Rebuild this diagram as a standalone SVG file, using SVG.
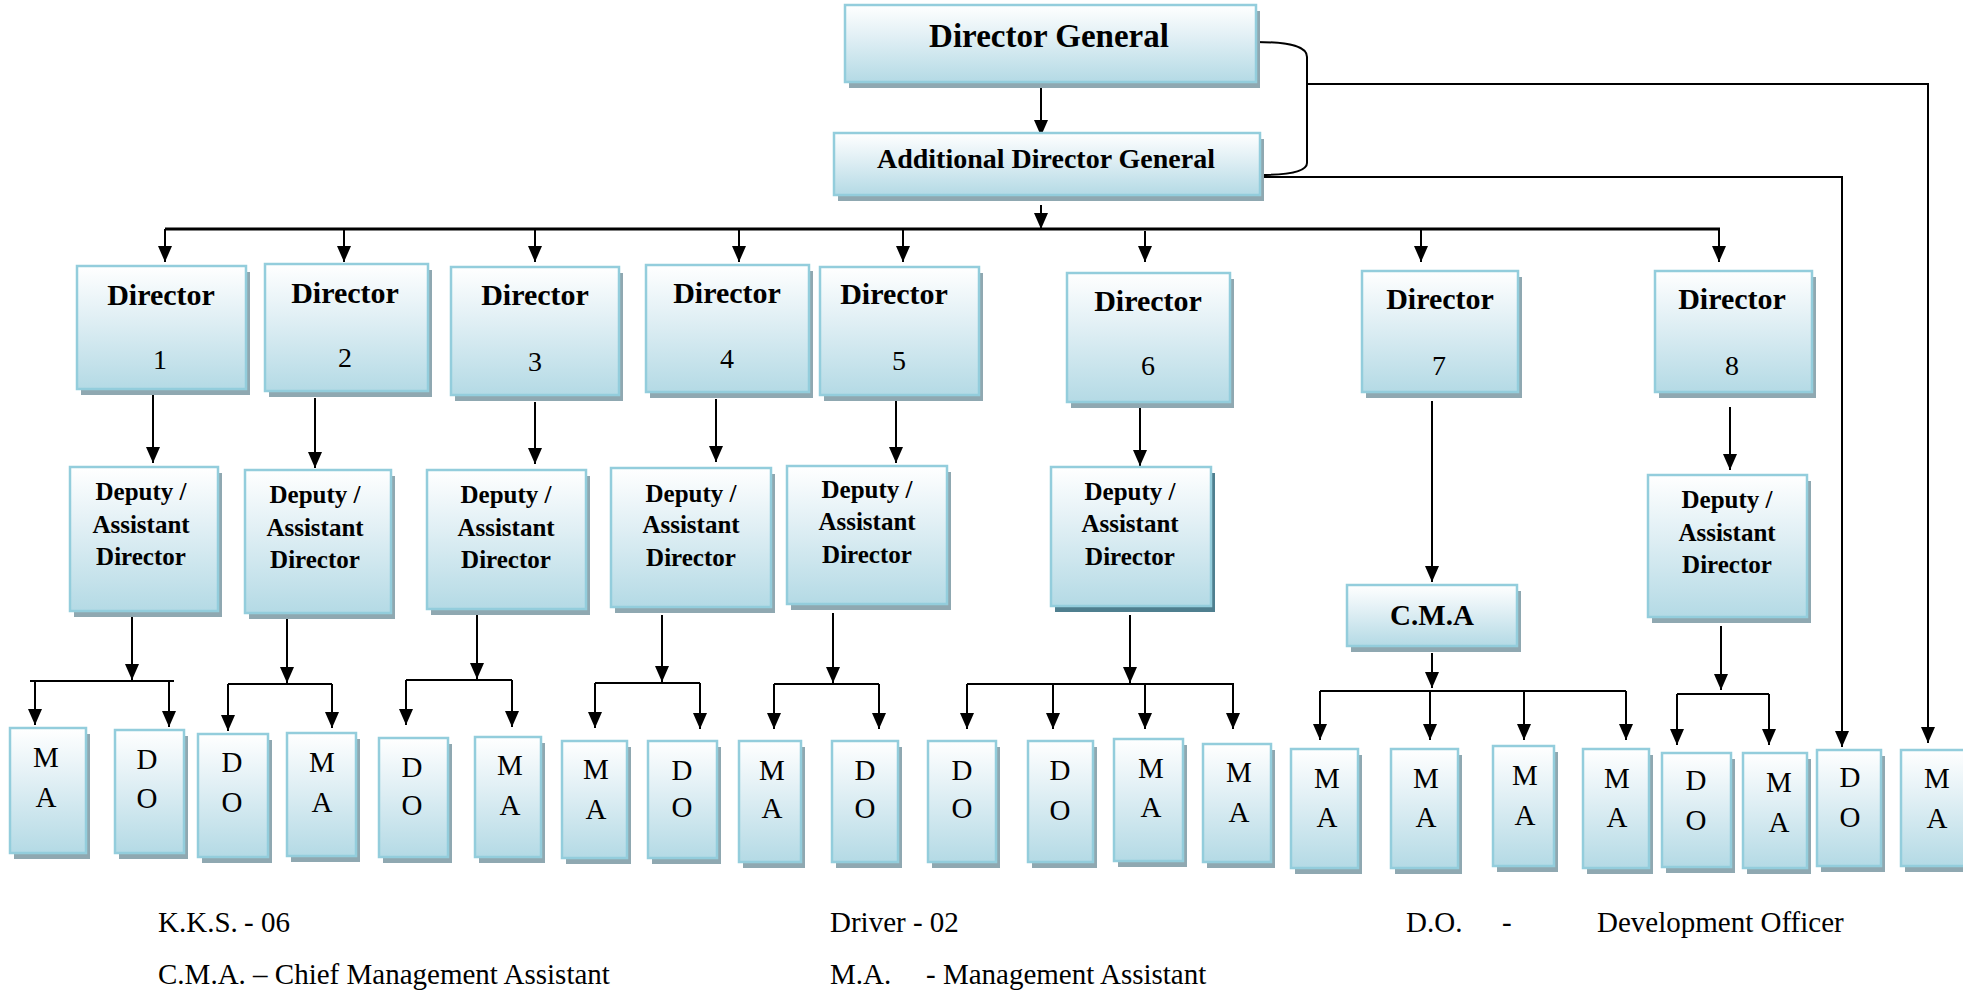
<svg xmlns="http://www.w3.org/2000/svg" width="1963" height="995" viewBox="0 0 1963 995">
<defs>
<linearGradient id="g" x1="0" y1="0" x2="0" y2="1">
<stop offset="0" stop-color="#ffffff"/>
<stop offset="0.4" stop-color="#e2f0f5"/>
<stop offset="1" stop-color="#b4dae5"/>
</linearGradient>
<marker id="ah" viewBox="0 0 16 14" refX="16" refY="7" markerWidth="16" markerHeight="14" orient="auto" markerUnits="userSpaceOnUse">
<path d="M0,0 L16,7 L0,14 z" fill="#000"/>
</marker>
<style>
.box{fill:url(#g);stroke:#93cddc;stroke-width:2.5}
.sh{fill:#8fa8b1}
.shd{fill:#4f7f8f}
text{font-family:'Liberation Serif','Times New Roman','DejaVu Serif',serif;fill:#000}
.tb{font-weight:bold;text-anchor:middle}
.tr{text-anchor:middle}
.lg{font-size:29px}
.dn{font-size:30px}
.da{font-size:25px}
.lt{font-size:29px}
.ln{stroke:#000;stroke-width:2;fill:none}
.bus{stroke:#000;stroke-width:3;fill:none}
.ar{stroke:#000;stroke-width:2;fill:none;marker-end:url(#ah)}
</style>
</defs>
<rect width="1963" height="995" fill="#fff"/>

<g id="connectors">
<path class="ar" d="M1041,87 V136"/>
<path class="ar" d="M1041,205 V229"/>
<path class="bus" d="M165,229 H1720"/>
<path class="ar" d="M165,229 V262"/>
<path class="ar" d="M344,229 V262"/>
<path class="ar" d="M535,229 V262"/>
<path class="ar" d="M739,229 V262"/>
<path class="ar" d="M903,229 V262"/>
<path class="ar" d="M1145,231 V262"/>
<path class="ar" d="M1421,229 V262"/>
<path class="ar" d="M1719,229 V262"/>
<path class="ln" d="M1256,42 C1292,42 1307,47 1307,57 V163 C1307,171 1292,175 1260,175"/>
<path class="ar" d="M1308,84 H1928 V743"/>
<path class="ar" d="M1260,177 H1842 V747"/>
<path class="ar" d="M153,393 V463"/>
<path class="ar" d="M315,398 V468"/>
<path class="ar" d="M535,402 V464"/>
<path class="ar" d="M716,399 V462"/>
<path class="ar" d="M896,401 V463"/>
<path class="ar" d="M1140,404 V466"/>
<path class="ar" d="M1432,401 V582"/>
<path class="ar" d="M1730,407 V470"/>
<path class="ar" d="M132,612 V680"/>
<path class="ln" d="M30,681 H174"/>
<path class="ar" d="M35,681 V725"/>
<path class="ar" d="M169,681 V727"/>
<path class="ar" d="M287,619 V683"/>
<path class="ln" d="M228,684 H332"/>
<path class="ar" d="M228,684 V731"/>
<path class="ar" d="M332,684 V728"/>
<path class="ar" d="M477,613 V679"/>
<path class="ln" d="M406,680 H512"/>
<path class="ar" d="M406,680 V725"/>
<path class="ar" d="M512,680 V727"/>
<path class="ar" d="M662,615 V682"/>
<path class="ln" d="M595,683 H700"/>
<path class="ar" d="M595,683 V728"/>
<path class="ar" d="M700,683 V729"/>
<path class="ar" d="M833,613 V683"/>
<path class="ln" d="M774,684 H879"/>
<path class="ar" d="M774,684 V729"/>
<path class="ar" d="M879,684 V729"/>
<path class="ar" d="M1130,615 V683"/>
<path class="ln" d="M967,684 H1234"/>
<path class="ar" d="M967,684 V729"/>
<path class="ar" d="M1053,684 V729"/>
<path class="ar" d="M1145,684 V729"/>
<path class="ar" d="M1233,684 V729"/>
<path class="ar" d="M1432,653 V688"/>
<path class="ln" d="M1320,691 H1626"/>
<path class="ar" d="M1320,691 V740"/>
<path class="ar" d="M1430,691 V740"/>
<path class="ar" d="M1524,691 V740"/>
<path class="ar" d="M1626,691 V740"/>
<path class="ar" d="M1721,626 V690"/>
<path class="ln" d="M1677,694 H1769"/>
<path class="ar" d="M1677,694 V745"/>
<path class="ar" d="M1769,694 V745"/>
</g>

<g id="dg"><rect class="sh" x="849" y="11" width="411" height="77"/><rect class="box" x="845" y="5" width="411" height="77"/><text class="tb" x="1049" y="47" font-size="33">Director General</text></g>
<g id="adg"><rect class="sh" x="838" y="139" width="426" height="62"/><rect class="box" x="834" y="133" width="426" height="62"/><text class="tb" x="1046" y="168" font-size="28">Additional Director General</text></g>

<g id="director1"><rect class="sh" x="81" y="272" width="169" height="123"/><rect class="box" x="77" y="266" width="169" height="123"/><text class="tb dn" x="161" y="305">Director</text><text class="tr" x="160" y="369" font-size="28">1</text></g>
<g id="director2"><rect class="sh" x="269" y="270" width="163" height="127"/><rect class="box" x="265" y="264" width="163" height="127"/><text class="tb dn" x="345" y="303">Director</text><text class="tr" x="345" y="367" font-size="28">2</text></g>
<g id="director3"><rect class="sh" x="455" y="273" width="168" height="128"/><rect class="box" x="451" y="267" width="168" height="128"/><text class="tb dn" x="535" y="305">Director</text><text class="tr" x="535" y="371" font-size="28">3</text></g>
<g id="director4"><rect class="sh" x="650" y="271" width="163" height="127"/><rect class="box" x="646" y="265" width="163" height="127"/><text class="tb dn" x="727" y="303">Director</text><text class="tr" x="727" y="368" font-size="28">4</text></g>
<g id="director5"><rect class="sh" x="824" y="273" width="159" height="128"/><rect class="box" x="820" y="267" width="159" height="128"/><text class="tb dn" x="894" y="304">Director</text><text class="tr" x="899" y="370" font-size="28">5</text></g>
<g id="director6"><rect class="sh" x="1071" y="279" width="163" height="129"/><rect class="box" x="1067" y="273" width="163" height="129"/><text class="tb dn" x="1148" y="311">Director</text><text class="tr" x="1148" y="375" font-size="28">6</text></g>
<g id="director7"><rect class="sh" x="1366" y="277" width="156" height="121"/><rect class="box" x="1362" y="271" width="156" height="121"/><text class="tb dn" x="1440" y="309">Director</text><text class="tr" x="1439" y="375" font-size="28">7</text></g>
<g id="director8"><rect class="sh" x="1659" y="277" width="157" height="121"/><rect class="box" x="1655" y="271" width="157" height="121"/><text class="tb dn" x="1732" y="309">Director</text><text class="tr" x="1732" y="375" font-size="28">8</text></g>

<g id="dad1"><rect class="sh" x="74" y="473" width="148" height="144"/><rect class="box" x="70" y="467" width="148" height="144"/><text class="tb da" x="141" y="500">Deputy /</text><text class="tb da" x="141" y="533">Assistant</text><text class="tb da" x="141" y="565">Director</text></g>
<g id="dad2"><rect class="sh" x="249" y="476" width="146" height="143"/><rect class="box" x="245" y="470" width="146" height="143"/><text class="tb da" x="315" y="503">Deputy /</text><text class="tb da" x="315" y="536">Assistant</text><text class="tb da" x="315" y="568">Director</text></g>
<g id="dad3"><rect class="sh" x="431" y="476" width="159" height="139"/><rect class="box" x="427" y="470" width="159" height="139"/><text class="tb da" x="506" y="503">Deputy /</text><text class="tb da" x="506" y="536">Assistant</text><text class="tb da" x="506" y="568">Director</text></g>
<g id="dad4"><rect class="sh" x="615" y="474" width="160" height="139"/><rect class="box" x="611" y="468" width="160" height="139"/><text class="tb da" x="691" y="502">Deputy /</text><text class="tb da" x="691" y="533">Assistant</text><text class="tb da" x="691" y="566">Director</text></g>
<g id="dad5"><rect class="sh" x="791" y="472" width="160" height="138"/><rect class="box" x="787" y="466" width="160" height="138"/><text class="tb da" x="867" y="498">Deputy /</text><text class="tb da" x="867" y="530">Assistant</text><text class="tb da" x="867" y="563">Director</text></g>
<g id="dad6"><rect class="shd" x="1055" y="473" width="160" height="139"/><rect class="box" x="1051" y="467" width="160" height="139"/><text class="tb da" x="1130" y="500">Deputy /</text><text class="tb da" x="1130" y="532">Assistant</text><text class="tb da" x="1130" y="565">Director</text></g>
<g id="cma"><rect class="sh" x="1351" y="591" width="170" height="61"/><rect class="box" x="1347" y="585" width="170" height="61"/><text class="tb" x="1432" y="625" font-size="29">C.M.A</text></g>
<g id="dad8"><rect class="sh" x="1652" y="481" width="159" height="142"/><rect class="box" x="1648" y="475" width="159" height="142"/><text class="tb da" x="1727" y="508">Deputy /</text><text class="tb da" x="1727" y="541">Assistant</text><text class="tb da" x="1727" y="573">Director</text></g>

<g id="s1"><rect class="sh" x="14" y="734" width="76" height="125"/><rect class="box" x="10" y="728" width="76" height="125"/><text class="tr lt" x="46" y="767">M</text><text class="tr lt" x="46" y="807">A</text></g>
<g id="s2"><rect class="sh" x="119" y="736" width="69" height="123"/><rect class="box" x="115" y="730" width="69" height="123"/><text class="tr lt" x="147" y="769">D</text><text class="tr lt" x="147" y="808">O</text></g>
<g id="s3"><rect class="sh" x="202" y="740" width="70" height="123"/><rect class="box" x="198" y="734" width="70" height="123"/><text class="tr lt" x="232" y="772">D</text><text class="tr lt" x="232" y="812">O</text></g>
<g id="s4"><rect class="sh" x="291" y="739" width="69" height="123"/><rect class="box" x="287" y="733" width="69" height="123"/><text class="tr lt" x="322" y="772">M</text><text class="tr lt" x="322" y="812">A</text></g>
<g id="s5"><rect class="sh" x="383" y="744" width="69" height="119"/><rect class="box" x="379" y="738" width="69" height="119"/><text class="tr lt" x="412" y="777">D</text><text class="tr lt" x="412" y="815">O</text></g>
<g id="s6"><rect class="sh" x="479" y="743" width="66" height="120"/><rect class="box" x="475" y="737" width="66" height="120"/><text class="tr lt" x="510" y="775">M</text><text class="tr lt" x="510" y="815">A</text></g>
<g id="s7"><rect class="sh" x="566" y="747" width="65" height="117"/><rect class="box" x="562" y="741" width="65" height="117"/><text class="tr lt" x="596" y="779">M</text><text class="tr lt" x="596" y="819">A</text></g>
<g id="s8"><rect class="sh" x="652" y="747" width="69" height="117"/><rect class="box" x="648" y="741" width="69" height="117"/><text class="tr lt" x="682" y="780">D</text><text class="tr lt" x="682" y="817">O</text></g>
<g id="s9"><rect class="sh" x="743" y="747" width="62" height="121"/><rect class="box" x="739" y="741" width="62" height="121"/><text class="tr lt" x="772" y="780">M</text><text class="tr lt" x="772" y="818">A</text></g>
<g id="s10"><rect class="sh" x="836" y="747" width="66" height="121"/><rect class="box" x="832" y="741" width="66" height="121"/><text class="tr lt" x="865" y="780">D</text><text class="tr lt" x="865" y="818">O</text></g>
<g id="s11"><rect class="sh" x="932" y="747" width="68" height="121"/><rect class="box" x="928" y="741" width="68" height="121"/><text class="tr lt" x="962" y="780">D</text><text class="tr lt" x="962" y="818">O</text></g>
<g id="s12"><rect class="sh" x="1032" y="747" width="65" height="121"/><rect class="box" x="1028" y="741" width="65" height="121"/><text class="tr lt" x="1060" y="780">D</text><text class="tr lt" x="1060" y="820">O</text></g>
<g id="s13"><rect class="sh" x="1118" y="745" width="69" height="122"/><rect class="box" x="1114" y="739" width="69" height="122"/><text class="tr lt" x="1151" y="778">M</text><text class="tr lt" x="1151" y="817">A</text></g>
<g id="s14"><rect class="sh" x="1207" y="750" width="68" height="118"/><rect class="box" x="1203" y="744" width="68" height="118"/><text class="tr lt" x="1239" y="782">M</text><text class="tr lt" x="1239" y="822">A</text></g>
<g id="s15"><rect class="sh" x="1295" y="755" width="67" height="119"/><rect class="box" x="1291" y="749" width="67" height="119"/><text class="tr lt" x="1327" y="788">M</text><text class="tr lt" x="1327" y="827">A</text></g>
<g id="s16"><rect class="sh" x="1395" y="755" width="67" height="119"/><rect class="box" x="1391" y="749" width="67" height="119"/><text class="tr lt" x="1426" y="788">M</text><text class="tr lt" x="1426" y="827">A</text></g>
<g id="s17"><rect class="sh" x="1497" y="752" width="61" height="120"/><rect class="box" x="1493" y="746" width="61" height="120"/><text class="tr lt" x="1525" y="785">M</text><text class="tr lt" x="1525" y="825">A</text></g>
<g id="s18"><rect class="sh" x="1587" y="755" width="66" height="119"/><rect class="box" x="1583" y="749" width="66" height="119"/><text class="tr lt" x="1617" y="788">M</text><text class="tr lt" x="1617" y="827">A</text></g>
<g id="s19"><rect class="sh" x="1666" y="759" width="69" height="114"/><rect class="box" x="1662" y="753" width="69" height="114"/><text class="tr lt" x="1696" y="790">D</text><text class="tr lt" x="1696" y="830">O</text></g>
<g id="s20"><rect class="sh" x="1747" y="759" width="64" height="115"/><rect class="box" x="1743" y="753" width="64" height="115"/><text class="tr lt" x="1779" y="792">M</text><text class="tr lt" x="1779" y="832">A</text></g>
<g id="s21"><rect class="sh" x="1821" y="756" width="64" height="116"/><rect class="box" x="1817" y="750" width="64" height="116"/><text class="tr lt" x="1850" y="787">D</text><text class="tr lt" x="1850" y="827">O</text></g>
<g id="s22"><rect class="sh" x="1905" y="756" width="70" height="116"/><rect class="box" x="1901" y="750" width="70" height="116"/><text class="tr lt" x="1937" y="788">M</text><text class="tr lt" x="1937" y="828">A</text></g>

<g id="legend">
<text class="lg" x="158" y="932">K.K.S.<tspan x="244">- 06</tspan></text>
<text class="lg" x="158" y="984">C.M.A. – Chief Management Assistant</text>
<text class="lg" x="830" y="932">Driver - 02</text>
<text class="lg" x="830" y="984">M.A.<tspan x="926">- Management Assistant</tspan></text>
<text class="lg" x="1406" y="932">D.O.<tspan x="1502">-</tspan><tspan x="1597">Development Officer</tspan></text>
</g>
</svg>
